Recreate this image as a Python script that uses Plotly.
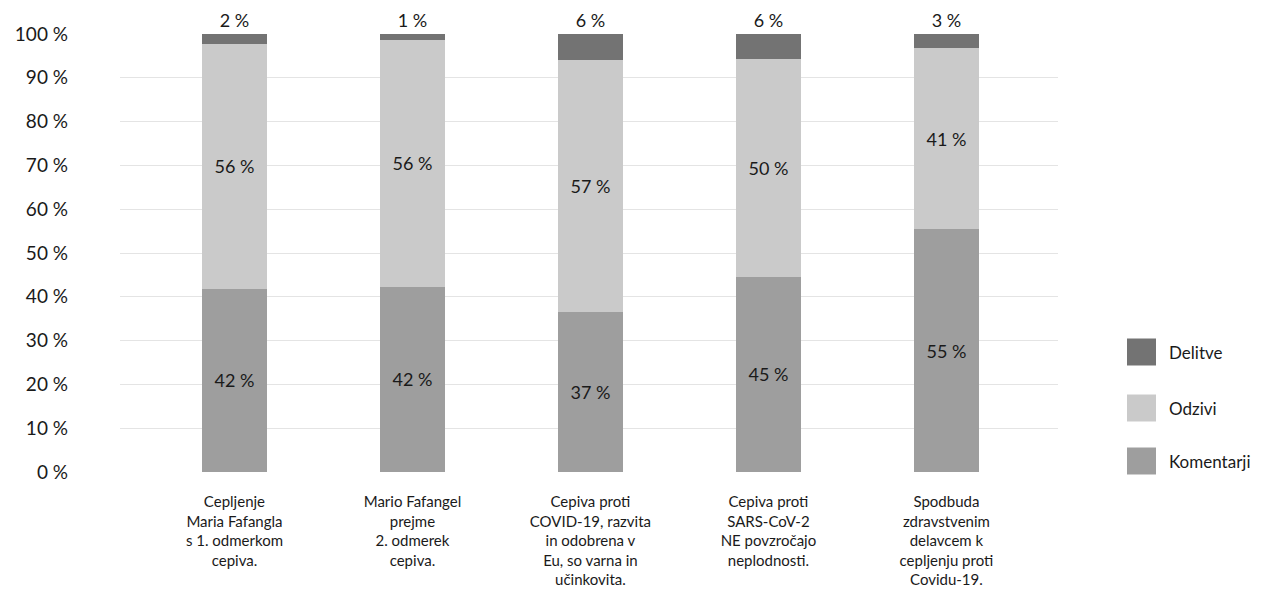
import plotly.graph_objects as go

categories = [
    "Cepljenje<br>Maria Fafangla<br>s 1. odmerkom<br>cepiva.",
    "Mario Fafangel<br>prejme<br>2. odmerek<br>cepiva.",
    "Cepiva proti<br>COVID-19, razvita<br>in odobrena v<br>Eu, so varna in<br>učinkovita.",
    "Cepiva proti<br>SARS-CoV-2<br>NE povzročajo<br>neplodnosti.",
    "Spodbuda<br>zdravstvenim<br>delavcem k<br>cepljenju proti<br>Covidu-19.",
]
komentarji = [41.8, 42.3, 36.6, 44.6, 55.4]
odzivi = [55.9, 56.3, 57.4, 49.7, 41.4]
delitve = [2.3, 1.4, 6.0, 5.7, 3.2]
series_names = ["Komentarji", "Odzivi", "Delitve"]
series_colors = ["#9e9e9e", "#cacaca", "#737373"]
y_ticks = [0, 10, 20, 30, 40, 50, 60, 70, 80, 90, 100]

FONT = "Lato"
TXT = "#1a1a1a"

# page offset (body margin) compensation
OFF = 8
W, H = 1279, 601
L, R, T, B = 112, 229, 26, 137
pw = W - L - R
ph = H - T - B

fig = go.Figure()
x_idx = list(range(len(categories)))
for name, vals, col in zip(series_names, [komentarji, odzivi, delitve], series_colors):
    is_top = name == "Delitve"
    fig.add_trace(go.Bar(
        x=x_idx, y=vals, name=name,
        marker=dict(color=col, line=dict(width=0)),
        width=0.365,
        text=[f"{round(v):.0f} %" for v in vals],
        texttemplate="%{text}",
        textposition="outside" if is_top else "inside",
        insidetextanchor="middle",
        textangle=0,
        textfont=dict(family=FONT, size=18, color=TXT),
        cliponaxis=False,
        showlegend=False,
    ))

# manual legend (Delitve on top); positions given in page pixels
legend_rows = [("Delitve", series_colors[2], 352), ("Odzivi", series_colors[1], 408), ("Komentarji", series_colors[0], 461)]
px0 = OFF + L
py0 = OFF + T + ph  # page y of the plot bottom
for name, col, py in legend_rows:
    fig.add_shape(type="rect", xref="paper", yref="paper",
                  x0=(1127 - px0) / pw, x1=(1156 - px0) / pw,
                  y0=(py0 - (py + 13.5)) / ph, y1=(py0 - (py - 13.5)) / ph,
                  fillcolor=col, line=dict(width=0))
    fig.add_annotation(xref="paper", yref="paper", x=(1167 - px0) / pw, y=(py0 - py) / ph,
                       text=name, showarrow=False, xanchor="left", yanchor="middle",
                       font=dict(family=FONT, size=17, color=TXT))

fig.update_layout(
    barmode="stack",
    width=W, height=H,
    margin=dict(l=L, r=R, t=T, b=B, pad=0),
    paper_bgcolor="white", plot_bgcolor="white",
    font=dict(family=FONT, color=TXT),
    showlegend=False,
    xaxis=dict(
        tickmode="array", tickvals=x_idx, ticktext=categories,
        range=[-0.643, 4.627], showgrid=False, zeroline=False, showline=False,
        ticks="", tickfont=dict(family=FONT, size=15, color=TXT), tickangle=0,
        ticklabelstandoff=19, automargin=False,
    ),
    yaxis=dict(
        range=[0, 100.0001], tickvals=y_ticks, ticktext=[f"{t} %" for t in y_ticks],
        showgrid=True, gridcolor="#e4e4e4", gridwidth=1, zeroline=False,
        showline=False, ticks="", ticklabelstandoff=51, automargin=False,
        tickfont=dict(family=FONT, size=19, color=TXT),
    ),
)

fig.write_html("out.html")
